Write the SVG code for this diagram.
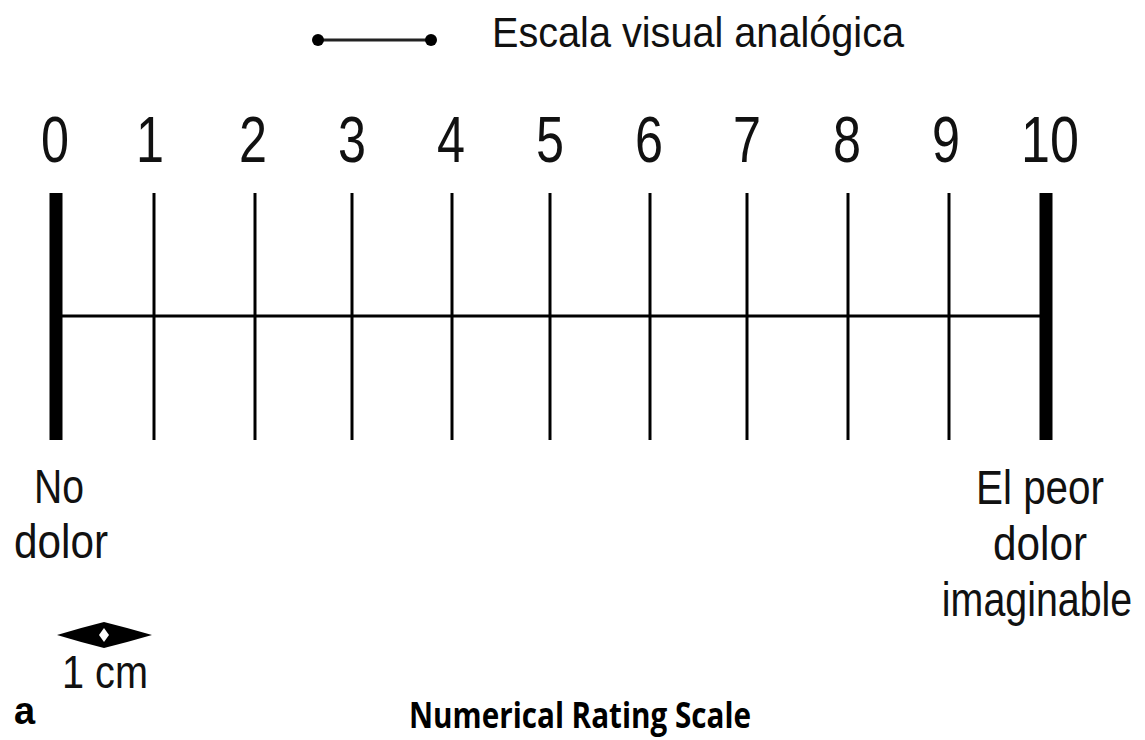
<svg xmlns="http://www.w3.org/2000/svg" width="1145" height="740" viewBox="0 0 1145 740">
  <style>
    .cond { font-family: "Liberation Sans", Arial, sans-serif; fill: #111; }
    .num { font-size: 65px; text-anchor: middle; }
    .lbl { font-size: 48px; text-anchor: middle; }
    .tick { stroke: #000; stroke-width: 3; fill: none; }
    .bar { stroke: #000; stroke-width: 13; fill: none; }
  </style>
  <rect width="1145" height="740" fill="#ffffff"/>

  <g id="legend">
    <line x1="318" y1="40" x2="431" y2="40" stroke="#222" stroke-width="3"/>
    <circle cx="318" cy="40" r="6" fill="#000"/>
    <circle cx="431" cy="40" r="6" fill="#000"/>
    <text class="cond" x="492" y="47" font-size="43" textLength="412" lengthAdjust="spacingAndGlyphs">Escala visual analógica</text>
  </g>

  <g id="numbers" class="cond num">
    <text x="55" y="162" textLength="28" lengthAdjust="spacingAndGlyphs">0</text>
    <text x="150" y="162" textLength="28" lengthAdjust="spacingAndGlyphs">1</text>
    <text x="253" y="162" textLength="28" lengthAdjust="spacingAndGlyphs">2</text>
    <text x="352" y="162" textLength="28" lengthAdjust="spacingAndGlyphs">3</text>
    <text x="451" y="162" textLength="28" lengthAdjust="spacingAndGlyphs">4</text>
    <text x="550" y="162" textLength="28" lengthAdjust="spacingAndGlyphs">5</text>
    <text x="649" y="162" textLength="28" lengthAdjust="spacingAndGlyphs">6</text>
    <text x="747" y="162" textLength="28" lengthAdjust="spacingAndGlyphs">7</text>
    <text x="847" y="162" textLength="28" lengthAdjust="spacingAndGlyphs">8</text>
    <text x="946" y="162" textLength="28" lengthAdjust="spacingAndGlyphs">9</text>
    <text x="1050" y="162" textLength="58" lengthAdjust="spacingAndGlyphs">10</text>
  </g>

  <g id="scale">
    <line class="tick" x1="56" y1="316" x2="1046" y2="316"/>
    <line class="bar" x1="56" y1="193" x2="56" y2="440"/>
    <line class="tick" x1="154" y1="193" x2="154" y2="440"/>
    <line class="tick" x1="255" y1="193" x2="255" y2="440"/>
    <line class="tick" x1="352" y1="193" x2="352" y2="440"/>
    <line class="tick" x1="452" y1="193" x2="452" y2="440"/>
    <line class="tick" x1="550" y1="193" x2="550" y2="440"/>
    <line class="tick" x1="650" y1="193" x2="650" y2="440"/>
    <line class="tick" x1="747" y1="193" x2="747" y2="440"/>
    <line class="tick" x1="848" y1="193" x2="848" y2="440"/>
    <line class="tick" x1="949" y1="193" x2="949" y2="440"/>
    <line class="bar" x1="1046" y1="193" x2="1046" y2="440"/>
  </g>

  <g id="label-no-dolor" class="cond lbl">
    <text x="59" y="503" textLength="50" lengthAdjust="spacingAndGlyphs">No</text>
    <text x="61" y="558" textLength="94" lengthAdjust="spacingAndGlyphs">dolor</text>
  </g>

  <g id="label-peor" class="cond lbl">
    <text x="1040" y="504" textLength="128" lengthAdjust="spacingAndGlyphs">El peor</text>
    <text x="1040" y="560" textLength="94" lengthAdjust="spacingAndGlyphs">dolor</text>
    <text transform="translate(1037,616) scale(0.82,1)" x="0" y="0">imaginable</text>
  </g>

  <g id="unit">
    <path d="M57,635 Q80,628 104,622 Q128,628 152,635 Q128,642 104,648 Q80,642 57,635 Z" fill="#000"/>
    <path d="M104,628 L109,635 L104,642 L99,635 Z" fill="#fff"/>
    <text class="cond" x="62" y="688" font-size="46" textLength="86" lengthAdjust="spacingAndGlyphs">1 cm</text>
  </g>

  <g id="panel-label">
    <text x="14" y="724" font-family="Liberation Sans, Arial, sans-serif" font-weight="bold" font-size="38" fill="#000">a</text>
  </g>

  <g id="title">
    <text x="409" y="728" font-family="'Open Sans', 'Liberation Sans', sans-serif" font-weight="bold" font-size="35" fill="#000" textLength="342" lengthAdjust="spacingAndGlyphs">Numerical Rating Scale</text>
  </g>
</svg>
